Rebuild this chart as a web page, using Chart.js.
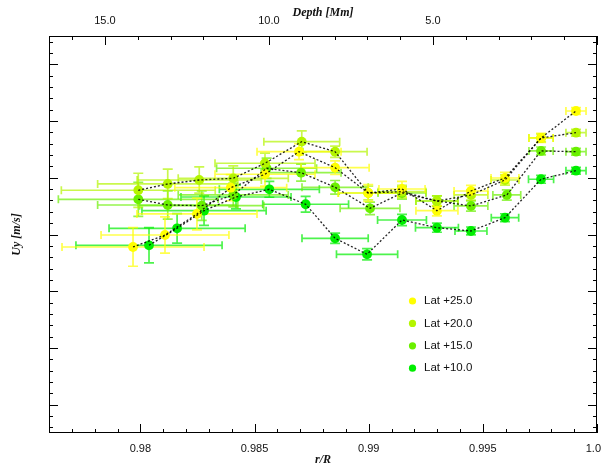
<!DOCTYPE html>
<html><head><meta charset="utf-8">
<script src="https://cdn.jsdelivr.net/npm/chart.js@4/dist/chart.umd.min.js"></script>
<style>html,body{margin:0;padding:0;background:#fff}#wrap{width:603px;height:465px}</style>
</head><body><div id="wrap"><canvas id="c" width="603" height="465"></canvas></div>
<script>
// ---- data (r/R, Uy in arbitrary m/s units, error bars) ----
const seriesLabels = ['Lat +25.0', 'Lat +20.0', 'Lat +15.0', 'Lat +10.0'];
const seriesColors = ['#ffff00', '#b4f500', '#6af000', '#00ee00'];

const r25  = [0.97968, 0.98108, 0.98248, 0.98396, 0.98546, 0.98695, 0.98853, 0.98998, 0.99146, 0.99299, 0.99448, 0.99597, 0.99755, 0.99908];
const u25  = [-2.20, -0.09, 3.62, 8.25, 10.62, 14.60, 11.78, 7.32, 8.02, 4.20, 7.67, 9.96, 17.02, 21.78];
const dr25 = [0.00311, 0.00280, 0.00263, 0.00245, 0.00219, 0.00184, 0.00149, 0.00131, 0.00101, 0.00092, 0.00074, 0.00061, 0.00053, 0.00044];
const du25 = [3.4, 3.2, 2.8, 2.3, 2.1, 1.4, 1.2, 1.5, 1.35, 0.9, 1.0, 1.0, 0.8, 0.6];

const r20  = [0.97991, 0.98120, 0.98258, 0.98407, 0.98546, 0.98707, 0.98853, 0.98998, 0.99146, 0.99299, 0.99448, 0.99597, 0.99755, 0.99908];
const u20  = [7.80, 8.91, 9.61, 9.91, 12.56, 16.37, 14.60, 7.32, 7.55, 5.91, 6.97, 9.61, 17.02, 17.95];
const dr20 = [0.00337, 0.00307, 0.00272, 0.00241, 0.00219, 0.00166, 0.00140, 0.00131, 0.00105, 0.00092, 0.00074, 0.00061, 0.00053, 0.00044];
const du20 = [3.0, 2.6, 2.3, 2.2, 1.8, 1.9, 1.0, 1.2, 1.1, 0.9, 0.9, 0.9, 0.7, 0.6];

const r15  = [0.97991, 0.98120, 0.98269, 0.98407, 0.98553, 0.98704, 0.98853, 0.99006, 0.99146, 0.99299, 0.99448, 0.99605, 0.99755, 0.99908];
const u15  = [6.21, 5.20, 5.08, 6.97, 11.68, 10.90, 8.32, 4.62, 7.32, 5.91, 5.03, 6.97, 14.73, 14.60];
const dr15 = [0.00350, 0.00307, 0.00272, 0.00241, 0.00219, 0.00175, 0.00145, 0.00131, 0.00105, 0.00092, 0.00074, 0.00061, 0.00053, 0.00044];
const du15 = [3.0, 2.5, 2.6, 2.1, 1.8, 1.5, 1.2, 1.1, 1.1, 0.9, 0.9, 0.9, 0.7, 0.6];

const r10  = [0.98038, 0.98161, 0.98279, 0.98419, 0.98565, 0.98724, 0.98853, 0.98993, 0.99146, 0.99299, 0.99448, 0.99597, 0.99755, 0.99908];
const u10  = [-1.90, 1.09, 4.20, 6.61, 7.97, 5.33, -0.67, -3.49, 2.56, 1.20, 0.62, 2.96, 9.74, 11.25];
const dr10 = [0.00320, 0.00298, 0.00272, 0.00241, 0.00219, 0.00188, 0.00145, 0.00134, 0.00107, 0.00094, 0.00070, 0.00060, 0.00055, 0.00044];
const du10 = [3.1, 2.6, 2.6, 2.1, 1.4, 1.4, 0.9, 1.0, 1.0, 0.8, 0.7, 0.7, 0.7, 0.6];

// axes / tick labels
const xMin = 0.976, xMax = 1.0;
const xMinorStep = 0.001;
const xTickValues = [0.98, 0.985, 0.99, 0.995, 1.0];
const xTickLabels = ['0.98', '0.985', '0.99', '0.995', '1.0'];
const yMin = -35, yMax = 35, yMajorStep = 10, yMinorStep = 2;
const R_SUN_MM = 696;                     // depth = R(1 - r/R)
const depthMinorStep = 1;
const depthTickValues = [15, 10, 5];
const depthTickLabels = ['15.0', '10.0', '5.0'];
const xTitle = 'r/R', x2Title = 'Depth [Mm]', yTitle = 'Uy [m/s]';

const rs = [r25, r20, r15, r10], us = [u25, u20, u15, u10];
const drs = [dr25, dr20, dr15, dr10], dus = [du25, du20, du15, du10];

function pts(r, u) { return r.map((v, i) => ({x: v, y: u[i]})); }

const datasets = [];
rs.forEach((r, i) => datasets.push({
  label: seriesLabels[i] + ' line', data: pts(r, us[i]), showLine: true,
  borderColor: 'rgba(0,0,0,0.85)', borderWidth: 1.3, borderDash: [2, 2],
  pointRadius: 0, pointHoverRadius: 0, fill: false, order: 0
}));
rs.forEach((r, i) => datasets.push({
  label: seriesLabels[i], data: pts(r, us[i]), showLine: false,
  backgroundColor: seriesColors[i], borderWidth: 0, pointRadius: 4.9,
  pointHoverRadius: 4.9, order: 1, errX: drs[i], errY: dus[i], color: seriesColors[i]
}));

const errorBars = {
  id: 'errorBars',
  beforeDatasetsDraw(chart) {
    const {ctx, chartArea: a, scales: {x, y}} = chart;
    ctx.save();
    ctx.beginPath(); ctx.rect(a.left, a.top, a.right - a.left, a.bottom - a.top); ctx.clip();
    const ms = chart.data.datasets.filter(d => d.errX);
    for (let k = ms.length - 1; k >= 0; k--) {
      const ds = ms[k];
      ctx.strokeStyle = ds.color; ctx.globalAlpha = 0.7; ctx.lineWidth = 1.7;
      ds.data.forEach((p, j) => {
        const px = x.getPixelForValue(p.x), py = y.getPixelForValue(p.y);
        const x0 = x.getPixelForValue(p.x - ds.errX[j]), x1 = x.getPixelForValue(p.x + ds.errX[j]);
        const y0 = y.getPixelForValue(p.y - ds.errY[j]), y1 = y.getPixelForValue(p.y + ds.errY[j]);
        ctx.beginPath();
        ctx.moveTo(x0, py); ctx.lineTo(x1, py);
        ctx.moveTo(x0, py - 4); ctx.lineTo(x0, py + 4);
        ctx.moveTo(x1, py - 4); ctx.lineTo(x1, py + 4);
        ctx.moveTo(px, y0); ctx.lineTo(px, y1);
        ctx.moveTo(px - 5, y0); ctx.lineTo(px + 5, y0);
        ctx.moveTo(px - 5, y1); ctx.lineTo(px + 5, y1);
        ctx.stroke();
      });
    }
    ctx.restore();
  }
};

const axesDraw = {
  id: 'axesDraw',
  afterDraw(chart) {
    const {ctx, chartArea: a, scales: {x, y, x2}} = chart;
    ctx.save();
    ctx.strokeStyle = '#000'; ctx.lineWidth = 1;
    ctx.strokeRect(Math.round(a.left) + 0.5, Math.round(a.top) + 0.5, Math.round(a.right - a.left) - 1, Math.round(a.bottom - a.top) - 1);
    ctx.beginPath();
    const nx = Math.round((xMax - xMin) / xMinorStep);
    for (let i = 0; i <= nx; i++) {
      const v = xMin + i * xMinorStep;
      const major = xTickValues.some(t => Math.abs(t - v) < 1e-7);
      const p = Math.round(x.getPixelForValue(v)) + 0.5;
      const L = major ? 9 : 4;
      ctx.moveTo(p, a.bottom); ctx.lineTo(p, a.bottom - L);
    }
    for (let d = 0; d <= x2.max + 1e-9; d += depthMinorStep) {
      const major = depthTickValues.includes(d) || d === 0;
      const p = Math.round(x2.getPixelForValue(d)) + 0.5;
      const L = major ? 9 : 4;
      ctx.moveTo(p, a.top); ctx.lineTo(p, a.top + L);
    }
    for (let v = Math.ceil(yMin / yMinorStep) * yMinorStep; v <= yMax; v += yMinorStep) {
      const major = v % yMajorStep === 0;
      const p = Math.round(y.getPixelForValue(v)) + 0.5;
      const L = major ? 9 : 4;
      ctx.moveTo(a.left, p); ctx.lineTo(a.left + L, p);
      ctx.moveTo(a.right, p); ctx.lineTo(a.right - L, p);
    }
    ctx.stroke();

    // tick labels
    ctx.fillStyle = '#111';
    ctx.font = '11px "Liberation Sans", Arial, sans-serif';
    ctx.textAlign = 'center'; ctx.textBaseline = 'middle';
    const W = chart.width;
    xTickValues.forEach((v, i) => {
      const w = ctx.measureText(xTickLabels[i]).width;
      const cx = Math.min(x.getPixelForValue(v), W - w / 2 - 2);
      ctx.fillText(xTickLabels[i], cx, a.bottom + 16);
    });
    depthTickValues.forEach((v, i) => ctx.fillText(depthTickLabels[i], x2.getPixelForValue(v), a.top - 15));

    // axis titles
    ctx.font = 'italic bold 12px "Liberation Serif", "Times New Roman", serif';
    const cx = (a.left + a.right) / 2;
    ctx.fillText(xTitle, cx, a.bottom + 27);
    ctx.fillText(x2Title, cx, a.top - 23);
    ctx.save();
    ctx.translate(17, (a.top + a.bottom) / 2);
    ctx.rotate(-Math.PI / 2);
    ctx.fillText(yTitle, 0, 0);
    ctx.restore();

    // legend
    ctx.font = '11.5px "Liberation Sans", Arial, sans-serif';
    ctx.textBaseline = 'middle'; ctx.textAlign = 'left';
    seriesLabels.forEach((t, i) => {
      const ly = 301 + i * 22.4;
      ctx.fillStyle = seriesColors[i];
      ctx.beginPath(); ctx.arc(412.5, ly, 3.6, 0, Math.PI * 2); ctx.fill();
      ctx.fillStyle = '#111';
      ctx.fillText(t, 424, ly);
    });
    ctx.restore();
  }
};

new Chart(document.getElementById('c'), {
  type: 'scatter',
  data: {datasets},
  options: {
    responsive: false, animation: false, devicePixelRatio: 1,
    layout: {padding: {left: 49, right: 6, top: 36, bottom: 32}},
    plugins: {legend: {display: false}, tooltip: {enabled: false}},
    scales: {
      x: {type: 'linear', position: 'bottom', min: xMin, max: xMax, display: false},
      x2: {type: 'linear', position: 'top', min: 0, max: R_SUN_MM * (xMax - xMin), reverse: true, display: false},
      y: {type: 'linear', position: 'left', min: yMin, max: yMax, display: false}
    }
  },
  plugins: [errorBars, axesDraw]
});
</script></body></html>
